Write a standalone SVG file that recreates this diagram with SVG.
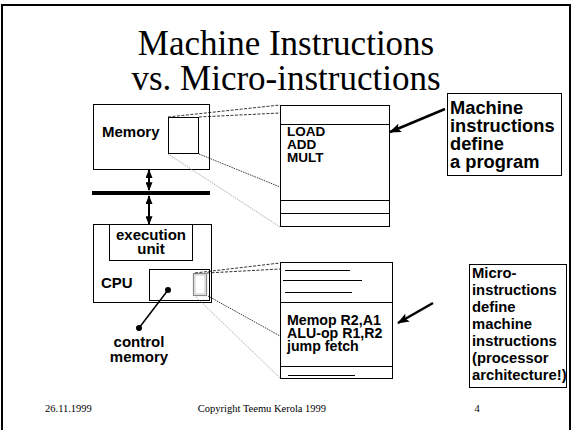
<svg xmlns="http://www.w3.org/2000/svg" width="572" height="430" viewBox="0 0 572 430">
  <style>
    .box { fill: #fff; stroke: #000; stroke-width: 1; }
    .lbl { font-family: "Liberation Sans", Arial, sans-serif; font-weight: bold; fill: #000; }
    .serif { font-family: "Liberation Serif", "Times New Roman", serif; fill: #000; }
    .dash { stroke: #000; stroke-width: 0.8; stroke-dasharray: 3 1.5; fill: none; }
    .dot { stroke: #000; stroke-width: 0.8; stroke-dasharray: 1.5 1; fill: none; }
    .grey { stroke: #999; stroke-width: 0.8; stroke-dasharray: 1.5 1; fill: none; }
    .rule { stroke: #000; stroke-width: 1; }
    .pointer { stroke: #000; stroke-width: 2.5; fill: none; }
  </style>
  <defs>
    <marker id="head" viewBox="0 0 10 8" refX="9" refY="4" markerWidth="9" markerHeight="7" markerUnits="userSpaceOnUse" orient="auto-start-reverse">
      <path d="M0,0 L10,4 L0,8 z" fill="#000"/>
    </marker>
    <marker id="big" viewBox="0 0 12 9" refX="11" refY="4.5" markerWidth="12" markerHeight="9" markerUnits="userSpaceOnUse" orient="auto">
      <path d="M0,0 L12,4.5 L0,9 L2.5,4.5 z" fill="#000"/>
    </marker>
  </defs>

  <rect width="572" height="430" fill="#fff"/>
  <!-- slide frame -->
  <path d="M2,432 V5 H570 V432" fill="none" stroke="#000" stroke-width="2"/>

  <!-- title -->
  <g id="title">
    <text class="serif" x="286" y="55" font-size="35" text-anchor="middle">Machine Instructions</text>
    <text class="serif" x="286" y="90" font-size="35" text-anchor="middle">vs. Micro-instructions</text>
  </g>

  <!-- system bus -->
  <g id="bus">
    <rect x="92" y="191" width="118" height="4" fill="#000"/>
  </g>

  <!-- memory -->
  <g id="memory">
    <rect class="box" x="93.5" y="104.5" width="116" height="65"/>
    <text class="lbl" x="102" y="137" font-size="15">Memory</text>
    <rect class="box" x="168.5" y="117.5" width="30" height="36"/>
  </g>

  <!-- machine program listing -->
  <g id="program">
    <rect class="box" x="280.5" y="105.5" width="109" height="121"/>
    <line class="rule" x1="280" y1="124.5" x2="390" y2="124.5"/>
    <line class="rule" x1="280" y1="200.5" x2="390" y2="200.5"/>
    <line class="rule" x1="280" y1="213.5" x2="390" y2="213.5"/>
    <text class="lbl" x="287" y="135.5" font-size="13.5">LOAD</text>
    <text class="lbl" x="287" y="148.5" font-size="13.5">ADD</text>
    <text class="lbl" x="287" y="161.5" font-size="13.5">MULT</text>
  </g>

  <!-- CPU -->
  <g id="cpu">
    <rect class="box" x="93.5" y="224.5" width="118" height="78"/>
    <text class="lbl" x="101" y="288" font-size="15">CPU</text>
  </g>

  <g id="execution-unit">
    <rect class="box" x="109.5" y="224.5" width="83" height="36"/>
    <text class="lbl" x="151" y="240" font-size="15" text-anchor="middle">execution</text>
    <text class="lbl" x="151" y="254" font-size="15" text-anchor="middle">unit</text>
  </g>

  <g id="control-memory">
    <rect class="box" x="149.5" y="269.5" width="60" height="31"/>
    <rect x="193.5" y="273.5" width="13" height="22" fill="#fff" stroke="#888" stroke-width="1.2"/>
    <rect x="195" y="275" width="10" height="19" fill="none" stroke="#bbb" stroke-width="0.8"/>
    <text class="lbl" x="139" y="347" font-size="15" text-anchor="middle">control</text>
    <text class="lbl" x="139" y="362" font-size="15" text-anchor="middle">memory</text>
  </g>

  <!-- microprogram listing -->
  <g id="microprogram">
    <rect class="box" x="280.5" y="262.5" width="112" height="116"/>
    <line class="rule" x1="285" y1="270.5" x2="350" y2="270.5"/>
    <line class="rule" x1="283" y1="280.5" x2="362" y2="280.5"/>
    <line class="rule" x1="285" y1="292.5" x2="352" y2="292.5"/>
    <line class="rule" x1="280" y1="302.5" x2="393" y2="302.5"/>
    <text class="lbl" x="287" y="324.5" font-size="14.2">Memop R2,A1</text>
    <text class="lbl" x="287" y="337.5" font-size="14.2">ALU-op R1,R2</text>
    <text class="lbl" x="287" y="350.5" font-size="14.2">jump fetch</text>
    <line class="rule" x1="280" y1="366.5" x2="393" y2="366.5"/>
    <line class="rule" x1="288" y1="375.5" x2="355" y2="375.5"/>
  </g>

  <!-- callouts -->
  <g id="machine-note">
    <rect class="box" x="447.5" y="93.5" width="114" height="82"/>
    <text class="lbl" font-size="18.3">
      <tspan x="450" y="114">Machine</tspan>
      <tspan x="450" y="132">instructions</tspan>
      <tspan x="450" y="150">define</tspan>
      <tspan x="450" y="168">a program</tspan>
    </text>
  </g>

  <g id="micro-note">
    <rect class="box" x="469.5" y="264.5" width="97" height="123"/>
    <text class="lbl" font-size="14.8">
      <tspan x="472" y="278">Micro-</tspan>
      <tspan x="472" y="295">instructions</tspan>
      <tspan x="472" y="312">define</tspan>
      <tspan x="472" y="329">machine</tspan>
      <tspan x="472" y="346">instructions</tspan>
      <tspan x="472" y="363">(processor</tspan>
      <tspan x="472" y="380">architecture!)</tspan>
    </text>
  </g>

  <!-- connectors -->
  <g id="connectors">
    <!-- memory zoom-out projection -->
    <line class="dash" x1="168" y1="117" x2="280" y2="105"/>
    <line class="dash" x1="199" y1="117" x2="280" y2="113"/>
    <line class="dot" x1="199" y1="154" x2="280" y2="187"/>
    <line class="grey" x1="168" y1="154" x2="280" y2="227"/>
    <!-- control memory zoom-out projection -->
    <line class="dash" x1="195" y1="273" x2="280" y2="263"/>
    <line class="dash" x1="207" y1="273" x2="280" y2="269"/>
    <line class="dot" x1="208" y1="296" x2="280" y2="336"/>
    <line class="grey" x1="196" y1="297" x2="280" y2="378"/>
    <!-- bus links -->
    <line x1="149" y1="170" x2="149" y2="190" stroke="#000" stroke-width="2" marker-start="url(#head)" marker-end="url(#head)"/>
    <line x1="149" y1="196" x2="149" y2="224" stroke="#000" stroke-width="2" marker-start="url(#head)" marker-end="url(#head)"/>
    <!-- callout pointers -->
    <line class="pointer" x1="445" y1="109" x2="390" y2="132" marker-end="url(#big)"/>
    <line class="pointer" x1="433" y1="303" x2="398" y2="323" marker-end="url(#big)"/>
    <!-- control memory label pointer -->
    <line x1="139" y1="328" x2="168" y2="290" stroke="#000" stroke-width="1.5"/>
    <circle cx="168" cy="290" r="3" fill="#000"/>
    <circle cx="139" cy="328" r="3" fill="#000"/>
  </g>

  <!-- footer -->
  <g id="footer">
    <text class="serif" x="45" y="412" font-size="10.5">26.11.1999</text>
    <text class="serif" x="262" y="412" font-size="10.5" text-anchor="middle">Copyright Teemu Kerola 1999</text>
    <text class="serif" x="477" y="412" font-size="10.5" text-anchor="middle">4</text>
  </g>
</svg>
